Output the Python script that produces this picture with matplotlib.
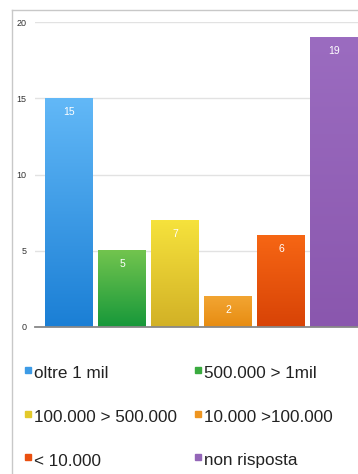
import numpy as np
import matplotlib.pyplot as plt
from matplotlib.lines import Line2D
from matplotlib.patches import Rectangle
from matplotlib.colors import to_rgb

plt.rcParams['font.family'] = ['Liberation Sans', 'DejaVu Sans']

# risposte per fascia
categorie = ["oltre 1 mil", "500.000 > 1mil", "100.000 > 500.000",
             "10.000 >100.000", "< 10.000", "non risposta"]
valori = [15, 5, 7, 2, 6, 19]
colori_alto = ["#62b8f7", "#72c44e", "#f6e23c", "#f2a532", "#f66614", "#9b6cc0"]
colori_basso = ["#1b7fd5", "#17983a", "#d2b126", "#e78c12", "#d84306", "#8a57ae"]
colori_legenda = ["#3d9be6", "#3aab3f", "#e3c92a", "#ee9520", "#ea5010", "#9466b8"]
yticks = [0, 5, 10, 15, 20]

fig = plt.figure(figsize=(3.58, 4.74), dpi=100)
ax = fig.add_axes([35 / 358, 1 - 327 / 474, 323 / 358, 305 / 474])

larghezza = 48 / 53
x = np.arange(len(valori))
for i, v in enumerate(valori):
    # sfumatura verticale della barra
    top = np.array(to_rgb(colori_alto[i]))
    bot = np.array(to_rgb(colori_basso[i]))
    t = np.linspace(0, 1, 100)[:, None]
    grad = (top * (1 - t) + bot * t)[:, None, :]
    ax.imshow(grad, extent=(x[i] - larghezza / 2, x[i] + larghezza / 2, 0, v),
              aspect='auto', interpolation='bilinear', zorder=3)
    ax.text(x[i], v - 0.88, str(v), ha='center', va='center',
            color='white', fontsize=7.5, zorder=4)

ax.set_xlim(-34 / 53, 5 + 24 / 53)
ax.set_ylim(0, 20)
ax.set_yticks(yticks)
ax.set_xticks([])
ax.grid(axis='y', color='#e2e2e2', linewidth=1, zorder=0)
ax.tick_params(axis='y', length=0, labelsize=6.5, labelcolor='#333333', pad=6)
for s in ['top', 'right', 'left']:
    ax.spines[s].set_visible(False)
ax.spines['bottom'].set_color('#888888')
ax.spines['bottom'].set_linewidth(1.3)
ax.spines['bottom'].set_zorder(5)

# cornice esterna
fig.add_artist(Line2D([12 / 358, 12 / 358], [0, 1 - 10 / 474], color='#c8c8c8', lw=1))
fig.add_artist(Line2D([12 / 358, 1], [1 - 10 / 474, 1 - 10 / 474], color='#c8c8c8', lw=1))

# legenda su due colonne
col_x = [25, 195]
riga_y = [374, 418, 461]
for i, nome in enumerate(categorie):
    px = col_x[i % 2]
    py = riga_y[i // 2]
    fig.add_artist(Rectangle((px / 358, 1 - (py - 1) / 474), 6 / 358, 6 / 474,
                             color=colori_legenda[i], transform=fig.transFigure))
    fig.text((px + 9) / 358, 1 - py / 474, nome, fontsize=12.3, color='#222222',
             va='center', ha='left')

fig.savefig("out.png", dpi=100)
